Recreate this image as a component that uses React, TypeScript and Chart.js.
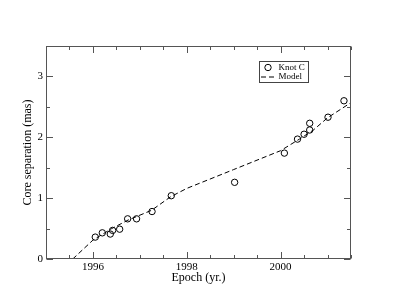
import React, { useEffect, useRef } from 'react';
import { Chart, registerables } from 'chart.js';

Chart.register(...registerables);

const SERIF = "'Liberation Serif', 'Times New Roman', Times, serif";

// Observed knot C core separations
const epochs = [1996.05, 1996.2, 1996.37, 1996.42, 1996.57, 1996.74, 1996.93, 1997.26, 1997.67, 1999.02, 2000.08, 2000.36, 2000.5, 2000.62, 2000.62, 2001.01, 2001.35];
const separations = [0.36, 0.43, 0.41, 0.47, 0.49, 0.66, 0.66, 0.78, 1.04, 1.26, 1.74, 1.97, 2.05, 2.12, 2.23, 2.33, 2.6];

// Model curve
const modelEpochs = [1995.57, 1996.0, 1996.4, 1996.75, 1997.25, 1997.65, 1998.0, 1999.0, 2000.0, 2000.4, 2000.7, 2001.0, 2001.5];
const modelSeparations = [0, 0.31, 0.5, 0.64, 0.8, 1.02, 1.16, 1.47, 1.78, 1.97, 2.12, 2.32, 2.57];

// Axes
const xMin = 1995;
const xMax = 2001.5;
const xStep = 0.5;
const xTickLabels = [1996, 1998, 2000];
const yMin = 0;
const yMax = 3.5;
const yStep = 0.5;
const yTickLabels = [0, 1, 2, 3];

const seriesLabel = 'Knot C';
const modelLabel = 'Model';
const xTitle = 'Epoch (yr.)';
const yTitle = 'Core separation (mas)';

const frameTicks = {
  id: 'frameTicks',
  afterDatasetsDraw(chart: any) {
    const { ctx, chartArea, scales } = chart;
    const { left, right, top, bottom } = chartArea;
    const xs = scales.x;
    const ys = scales.y;
    const L = Math.round(left) + 0.5;
    const R = Math.round(right) - 0.5;
    const T = Math.round(top) + 0.5;
    const B = Math.round(bottom) - 0.5;
    ctx.save();
    ctx.strokeStyle = '#555';
    ctx.lineWidth = 1;
    ctx.beginPath();
    xs.ticks.forEach((t: any) => {
      const px = Math.round(xs.getPixelForValue(t.value)) + 0.5;
      const len = xTickLabels.includes(t.value) ? 6.5 : 3.5;
      ctx.moveTo(px, B);
      ctx.lineTo(px, B - len);
      ctx.moveTo(px, T);
      ctx.lineTo(px, T + len);
    });
    ys.ticks.forEach((t: any) => {
      const py = Math.round(ys.getPixelForValue(t.value)) + 0.5;
      const len = yTickLabels.includes(t.value) ? 6.5 : 3.5;
      ctx.moveTo(L, py);
      ctx.lineTo(L + len, py);
      ctx.moveTo(R, py);
      ctx.lineTo(R - len, py);
    });
    ctx.stroke();
    ctx.strokeRect(L, T, R - L, B - T);

    // Legend box
    const bx = Math.round(left + 213) + 0.5;
    const by = Math.round(top + 15) + 0.5;
    const bw = 49;
    const bh = 21;
    ctx.strokeStyle = '#444';
    ctx.strokeRect(bx, by, bw, bh);
    ctx.strokeStyle = '#000';
    ctx.beginPath();
    ctx.arc(bx + 8.5, by + 6, 3.2, 0, Math.PI * 2);
    ctx.stroke();
    ctx.beginPath();
    ctx.setLineDash([5, 3]);
    ctx.moveTo(bx + 1.5, by + 15.5);
    ctx.lineTo(bx + 15.5, by + 15.5);
    ctx.stroke();
    ctx.setLineDash([]);
    ctx.fillStyle = '#000';
    ctx.font = `9px ${SERIF}`;
    ctx.textBaseline = 'middle';
    ctx.textAlign = 'left';
    ctx.fillText(seriesLabel, bx + 19, by + 6);
    ctx.fillText(modelLabel, bx + 19, by + 15.5);
    ctx.restore();
  },
};

export default function App() {
  const canvasRef = useRef<HTMLCanvasElement | null>(null);

  useEffect(() => {
    const canvas = canvasRef.current;
    if (!canvas) return;
    const chart = new Chart(canvas, {
      type: 'scatter',
      data: {
        datasets: [
          {
            label: seriesLabel,
            data: epochs.map((x, i) => ({ x, y: separations[i] })),
            pointStyle: 'circle',
            pointRadius: 3.2,
            pointBorderWidth: 1,
            borderColor: '#000',
            backgroundColor: 'rgba(0,0,0,0)',
            pointBackgroundColor: 'rgba(0,0,0,0)',
            pointBorderColor: '#000',
            showLine: false,
            order: 1,
          },
          {
            label: modelLabel,
            data: modelEpochs.map((x, i) => ({ x, y: modelSeparations[i] })),
            showLine: true,
            borderColor: '#000',
            borderWidth: 1,
            borderDash: [5, 3],
            pointRadius: 0,
            tension: 0,
            fill: false,
            order: 2,
          } as any,
        ],
      },
      options: {
        responsive: false,
        animation: false,
        layout: { padding: { left: 0, top: 46, right: 44, bottom: 0 } },
        plugins: {
          legend: { display: false },
          tooltip: { enabled: false },
        },
        scales: {
          x: {
            type: 'linear',
            min: xMin,
            max: xMax,
            grid: { display: false, drawTicks: false },
            border: { display: false },
            ticks: {
              stepSize: xStep,
              autoSkip: false,
              maxRotation: 0,
              padding: 2,
              color: '#000',
              font: { family: SERIF, size: 11 },
              callback: (v: any) => (xTickLabels.includes(Number(v)) ? String(v) : ''),
            },
            title: {
              display: true,
              text: xTitle,
              color: '#000',
              font: { family: SERIF, size: 12 },
              padding: { top: 0, bottom: 19.5 },
            },
            afterFit: (s: any) => {
              s.height = 46;
            },
          },
          y: {
            type: 'linear',
            min: yMin,
            max: yMax,
            grid: { display: false, drawTicks: false },
            border: { display: false },
            ticks: {
              stepSize: yStep,
              autoSkip: false,
              padding: 3,
              color: '#000',
              font: { family: SERIF, size: 11 },
              callback: (v: any) => (yTickLabels.includes(Number(v)) ? String(v) : ''),
            },
            title: {
              display: true,
              text: yTitle,
              color: '#000',
              font: { family: SERIF, size: 12 },
              padding: { top: 21, bottom: 0 },
            },
            afterFit: (s: any) => {
              s.width = 46;
            },
          },
        },
      },
      plugins: [frameTicks],
    });
    return () => chart.destroy();
  }, []);

  return (
    <div style={{ position: 'absolute', left: 0, top: 0, width: 395, height: 305, background: '#fff' }}>
      <canvas ref={canvasRef} width={395} height={305} style={{ display: 'block' }} />
    </div>
  );
}
